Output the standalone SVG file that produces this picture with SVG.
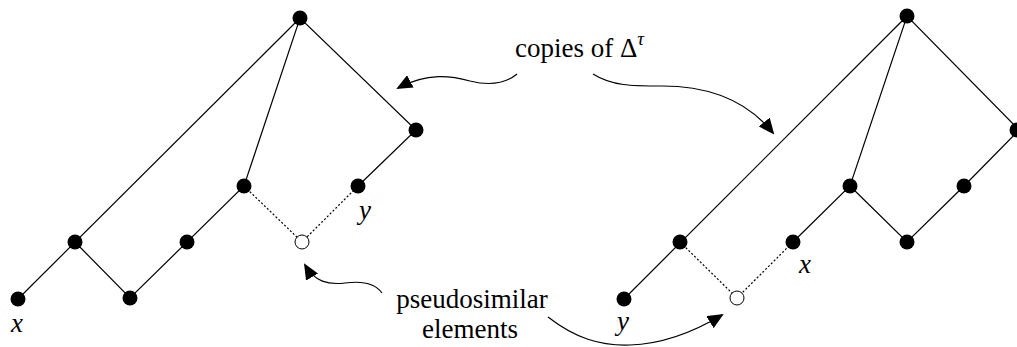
<svg xmlns="http://www.w3.org/2000/svg" width="1017" height="347" viewBox="0 0 1017 347">
<defs>
<style>
.e{stroke:#000;stroke-width:1.2;fill:none}
.d{stroke:#000;stroke-width:1.2;fill:none;stroke-dasharray:2 2}
.n{fill:#000}
.o{fill:#fff;stroke:#000;stroke-width:1}
.a{stroke:#000;stroke-width:1.2;fill:none;marker-end:url(#ah)}
.t{font-family:"Liberation Serif","DejaVu Serif",serif;font-size:27px;fill:#000}
.v{font-family:"Liberation Serif","DejaVu Serif",serif;font-size:27px;font-style:italic;fill:#000}
</style>
<marker id="ah" viewBox="0 0 16 14" refX="14" refY="7" markerWidth="16" markerHeight="14" markerUnits="userSpaceOnUse" orient="auto">
<path d="M0,0 L16,7 L0,14 Z" fill="#000"/>
</marker>
</defs>
<g id="connectors">
<path class="e" d="M18,299 L300,18"/>
<path class="e" d="M75,242 L130,298 L244,186 L300,18 L416,130 L358,186"/>
<path class="d" d="M244,186 L302,242 L358,186"/>
<path class="e" d="M624,299 L907,16"/>
<path class="e" d="M793,242 L850,186 L907,16 L1019,130 L964,186 L907,242 L850,186"/>
<path class="d" d="M680,242 L737,298 L793,242"/>
<path class="a" d="M517,74 C505,84 490,86 470,81 C452,76 428,72 398,88"/>
<path class="a" d="M593,74 C612,86 632,86 662,86 C705,86 745,98 773,133"/>
<path class="a" d="M382,293 C375,283 360,281 345,283 C328,285 315,282 305,265"/>
<path class="a" d="M548,317 C575,338 600,346 630,345 C662,344 692,333 722,315"/>
</g>
<g id="L_top"><circle class="n" cx="300" cy="18" r="7.5"/></g>
<g id="L_r1"><circle class="n" cx="416" cy="130" r="7.5"/></g>
<g id="L_y"><circle class="n" cx="358" cy="186" r="7.5"/><text class="v" x="359" y="219">y</text></g>
<g id="L_m"><circle class="n" cx="244" cy="186" r="7.5"/></g>
<g id="L_m2"><circle class="n" cx="187" cy="242" r="7.5"/></g>
<g id="L_a"><circle class="n" cx="75" cy="242" r="7.5"/></g>
<g id="L_b"><circle class="n" cx="130" cy="298" r="7.5"/></g>
<g id="L_x"><circle class="n" cx="18" cy="299" r="7.5"/><text class="v" x="11" y="332">x</text></g>
<g id="L_open"><circle class="o" cx="302" cy="242" r="7"/></g>
<g id="R_top"><circle class="n" cx="907" cy="16" r="7.5"/></g>
<g id="R_r1"><circle class="n" cx="1017" cy="130" r="7.5"/></g>
<g id="R_r2"><circle class="n" cx="964" cy="186" r="7.5"/></g>
<g id="R_b"><circle class="n" cx="907" cy="242" r="7.5"/></g>
<g id="R_m"><circle class="n" cx="850" cy="186" r="7.5"/></g>
<g id="R_x"><circle class="n" cx="793" cy="242" r="7.5"/><text class="v" x="799" y="273">x</text></g>
<g id="R_a"><circle class="n" cx="680" cy="242" r="7.5"/></g>
<g id="R_y"><circle class="n" cx="624" cy="299" r="7.5"/><text class="v" x="617" y="330">y</text></g>
<g id="R_open"><circle class="o" cx="737" cy="298" r="7"/></g>
<g id="label_copies"><text class="t" x="515" y="57">copies of Δ<tspan font-size="19" font-style="italic" dy="-12">τ</tspan></text></g>
<g id="label_pseudo"><text class="t" x="472" y="308" text-anchor="middle" font-size="29">pseudosimilar</text><text class="t" x="470" y="338" text-anchor="middle" font-size="29">elements</text></g>
</svg>
